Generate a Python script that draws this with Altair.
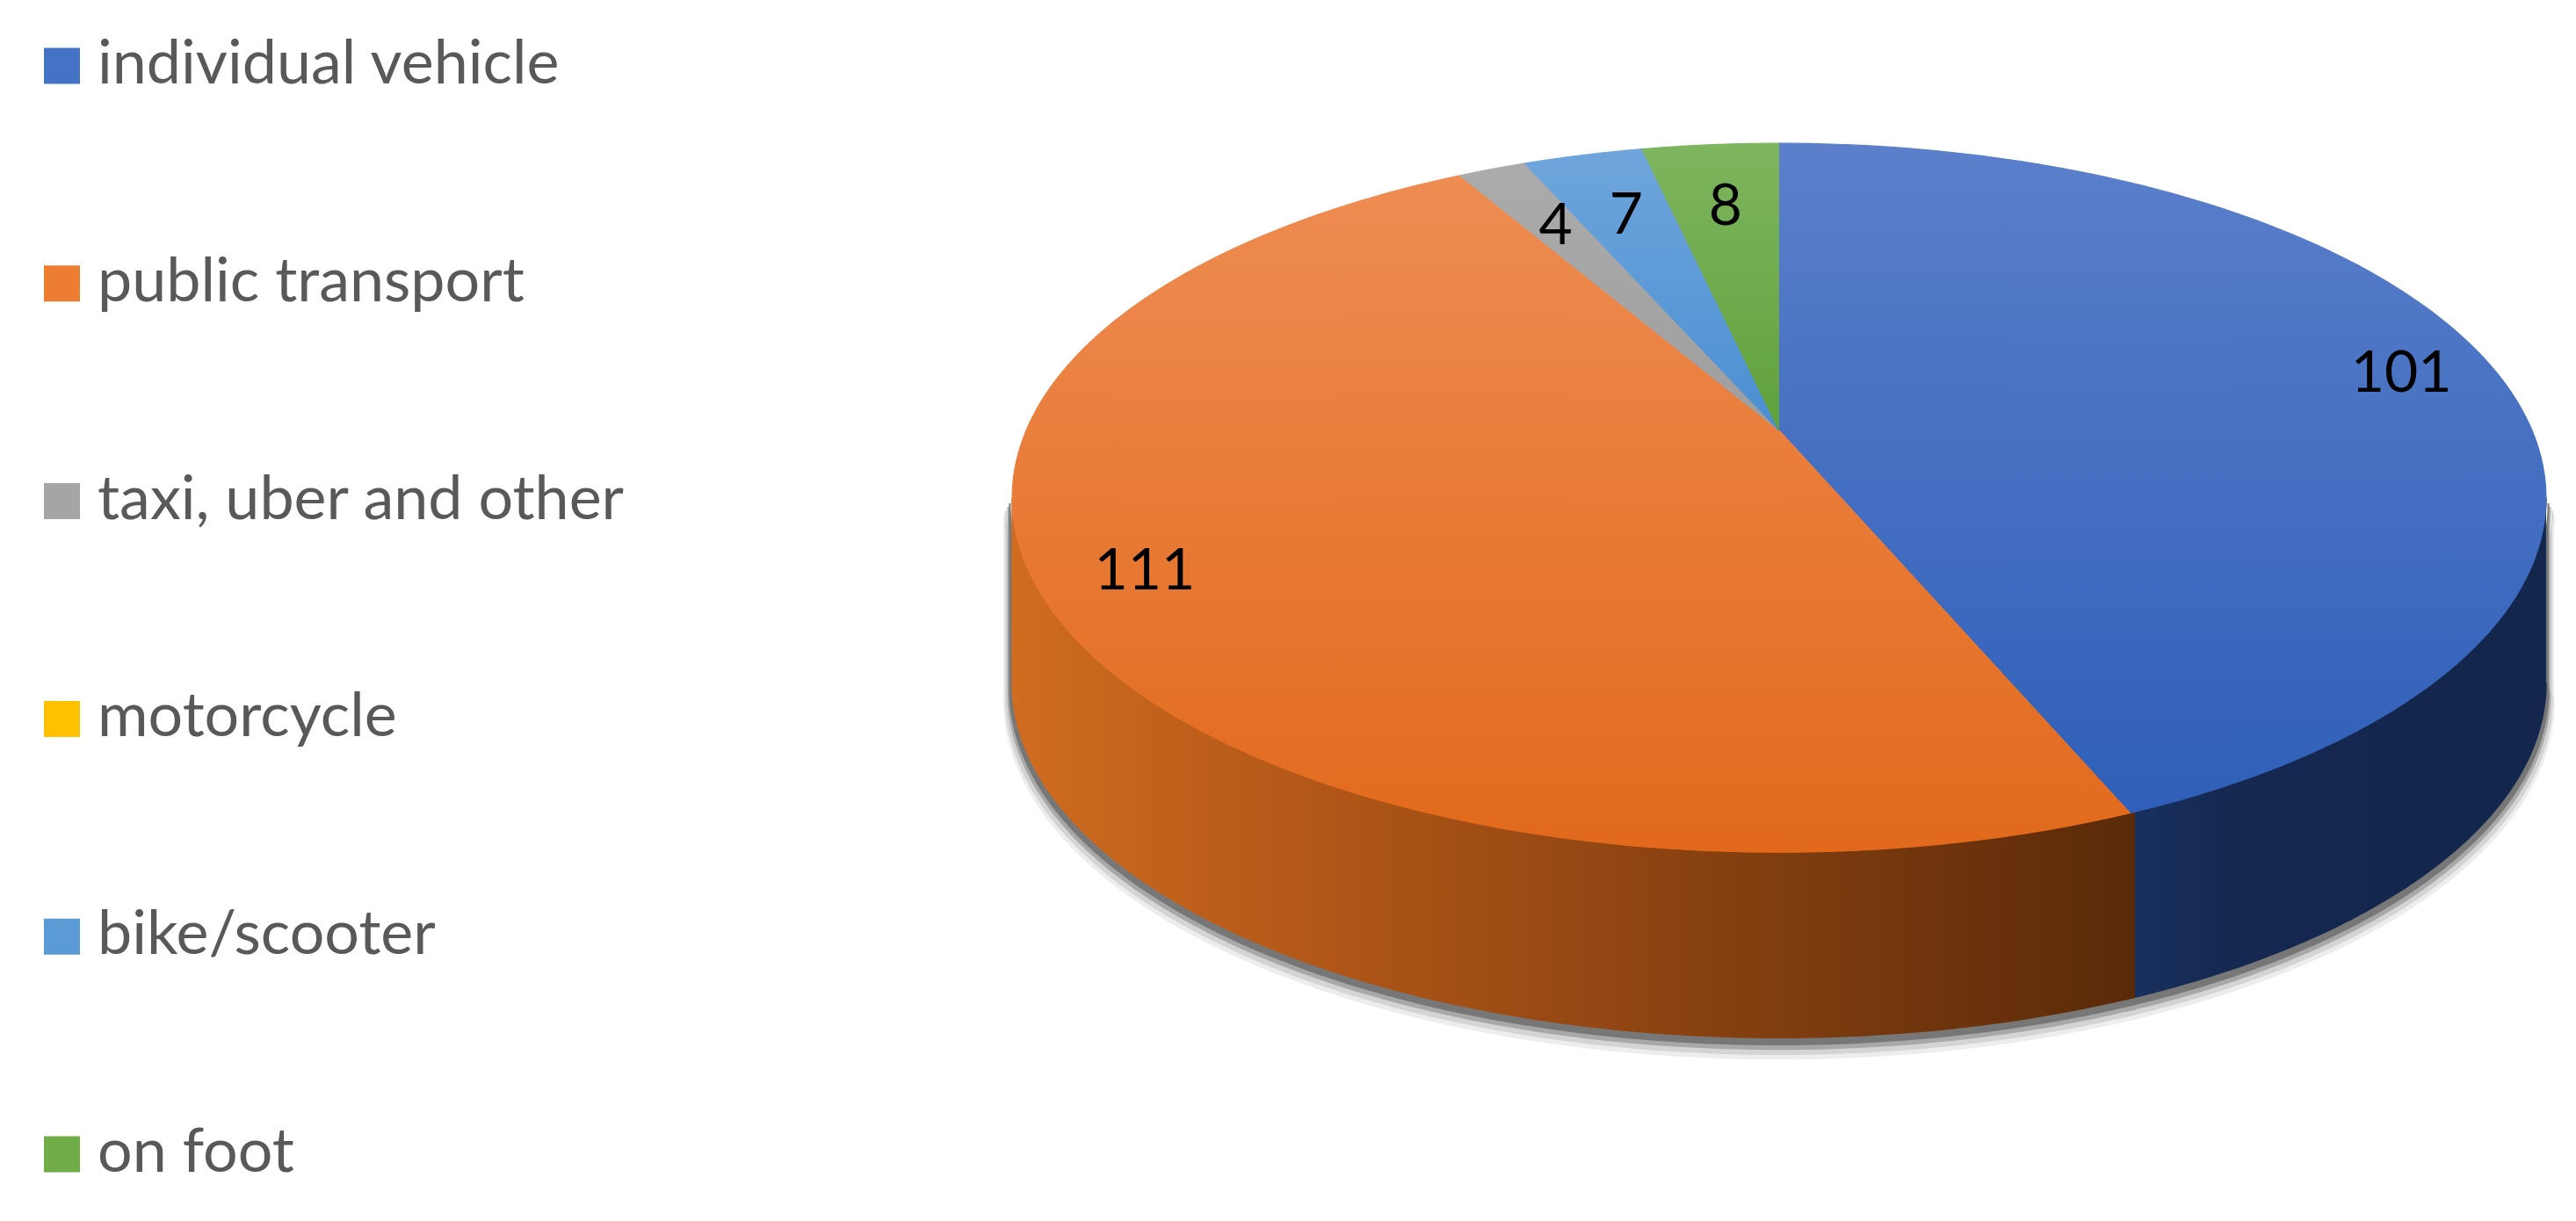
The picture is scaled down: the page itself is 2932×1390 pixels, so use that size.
import math
import altair as alt
import pandas as pd

# ---- data ----
categories = ["individual vehicle", "public transport", "taxi, uber and other",
              "motorcycle", "bike/scooter", "on foot"]
values = [101, 111, 4, 0, 7, 8]

# ---- styles ----
legend_colors = ["#4472C4", "#ED7D31", "#A5A5A5", "#FFC000", "#5B9BD5", "#70AD47"]
top_colors = [("#5B7FCB", "#2F5FB8"), ("#EE8C52", "#E2691B"), ("#ABABAB", "#9E9E9E"),
              ("#FFC000", "#E6AC00"), ("#6FA5DC", "#4A8FD2"), ("#7EB55F", "#60A13B")]
side_colors = [[("#1A3160", 0), ("#142850", 0.25), ("#13274C", 1)],
               [("#D06C20", 0), ("#AE5517", 0.3), ("#7E3C0F", 0.7), ("#5A2A09", 1)],
               [("#7A7A7A", 0), ("#555555", 1)], [("#B08400", 0), ("#806000", 1)],
               [("#3E6E9E", 0), ("#2A4F75", 1)], [("#4E7E33", 0), ("#355A22", 1)]]
shadow_steps = [(1.010, 18, "#EDEDED"), (1.008, 14, "#D4D4D4"), (1.005, 10, "#A8A8A8"),
                (1.003, 6, "#777777")]

W, H = 2916, 1374
CX, CY, RX, RY, PERSP, DEPTH = 2017, 482, 857, 389, 0.19, 211
N = 120
S1 = math.acos(-PERSP)
S2 = 2 * math.pi - S1

df = pd.DataFrame({"category": categories, "value": values,
                   "order": list(range(len(categories)))})

X = alt.X("x:Q", scale=alt.Scale(domain=[0, W], nice=False, zero=False), axis=None)
Y = alt.Y("y:Q", scale=alt.Scale(domain=[0, H], nice=False, zero=False, reverse=True), axis=None)


def px(t, r, cx=CX):
    return f"{cx} + {RX}*({r})*sin({t})/(1 + {PERSP}*({r})*cos({t}))"


def py(t, r, cy=CY):
    return f"{cy} - {RY}*({r})*cos({t})/(1 + {PERSP}*({r})*cos({t}))"


def base():
    return (alt.Chart(df)
            .transform_joinaggregate(total="sum(value)")
            .transform_window(cum="sum(value)", sort=[alt.SortField("order")], frame=[None, 0])
            .transform_calculate(a0="2*PI*(datum.cum - datum.value)/datum.total")
            .transform_calculate(a1="2*PI*datum.cum/datum.total")
            .transform_calculate(share="datum.value/datum.total")
            .transform_filter("datum.value > 0"))


def grad(stops, horizontal=False):
    return alt.LinearGradient(
        gradient="linear",
        stops=[alt.GradientStop(color=c, offset=o) for c, o in stops],
        x1=0, y1=0, x2=1 if horizontal else 0, y2=0 if horizontal else 1)


def side_data(cat, scale=1.0, dy=0):
    r = 1.0 * scale
    return (base().transform_filter(alt.datum.category == cat)
            .transform_calculate(b0=f"max(datum.a0 - 0.006, {S1})")
            .transform_calculate(b1=f"min(datum.a1 + 0.006, {S2})")
            .transform_filter("datum.b1 > datum.b0")
            .transform_calculate(idx=f"sequence(0, {2 * N + 2})")
            .transform_flatten(["idx"])
            .transform_calculate(t=f"datum.idx <= {N} ? datum.b0 + (datum.b1 - datum.b0)*datum.idx/{N} : datum.b1 - (datum.b1 - datum.b0)*(datum.idx - {N + 1})/{N}")
            .transform_calculate(dz=f"datum.idx <= {N} ? 0 : {DEPTH}")
            .transform_calculate(x=px("datum.t", r))
            .transform_calculate(y=py("datum.t", r, CY + dy) + " + datum.dz"))


layers = []
# soft shadow under the cylinder
for (sc, dy, col) in shadow_steps:
    for cat in categories:
        layers.append(side_data(cat, sc, dy)
                      .mark_line(filled=True, fill=col, stroke=col, strokeWidth=2)
                      .encode(x=X, y=Y, order=alt.Order("idx:Q")))

# side walls
for cat, st in zip(categories, side_colors):
    g = grad(st, horizontal=True)
    layers.append(side_data(cat)
                  .mark_line(filled=True, fill=g, stroke=g, strokeWidth=1.5)
                  .encode(x=X, y=Y, order=alt.Order("idx:Q")))

# top faces
for cat, (c0, c1) in zip(categories, top_colors):
    g = grad([(c0, 0), (c1, 1)])
    top = (base().transform_filter(alt.datum.category == cat)
           .transform_calculate(idx=f"sequence(0, {N + 2})")
           .transform_flatten(["idx"])
           .transform_calculate(r="datum.idx == 0 ? 0 : 1")
           .transform_calculate(t=f"datum.a0 + (datum.a1 - datum.a0)*max(datum.idx - 1, 0)/{N}")
           .transform_calculate(x=px("datum.t", "datum.r"))
           .transform_calculate(y=py("datum.t", "datum.r")))
    layers.append(top.mark_line(filled=True, fill=g, stroke=g, strokeWidth=1.2)
                  .encode(x=X, y=Y, order=alt.Order("idx:Q")))

# value labels
labels = (base()
          .transform_calculate(tm="(datum.a0 + datum.a1)/2")
          .transform_calculate(r="datum.share > 0.2 ? 0.87 : 0.75")
          .transform_calculate(x=px("datum.tm", "datum.r"))
          .transform_calculate(y=py("datum.tm", "datum.r"))
          .mark_text(font="Lato", fontSize=66, color="#000000", align="center", baseline="middle")
          .encode(x=X, y=Y, text=alt.Text("value:Q")))
layers.append(labels)

# legend
legY = alt.Y("category:N", sort=categories, axis=None,
             scale=alt.Scale(domain=categories, range=[67, 1306], padding=0))
boxes = (alt.Chart(df).mark_square(size=1681, opacity=1)
         .encode(y=legY, x=alt.value(62.5),
                 color=alt.Color("category:N", scale=alt.Scale(domain=categories, range=legend_colors),
                                 legend=None)))
texts = (alt.Chart(df).mark_text(align="left", baseline="alphabetic", dy=20, font="Lato",
                                 fontSize=70, color="#595959")
         .encode(y=legY, x=alt.value(103), text="category:N"))
layers += [boxes, texts]

chart = (alt.layer(*layers)
         .resolve_scale(y="independent")
         .properties(width=W, height=H, padding=0, background="white",
                     autosize=alt.AutoSizeParams(type="none"))
         .configure_view(stroke=None))

chart.save("out.html", embed_options={"renderer": "svg", "actions": False})
